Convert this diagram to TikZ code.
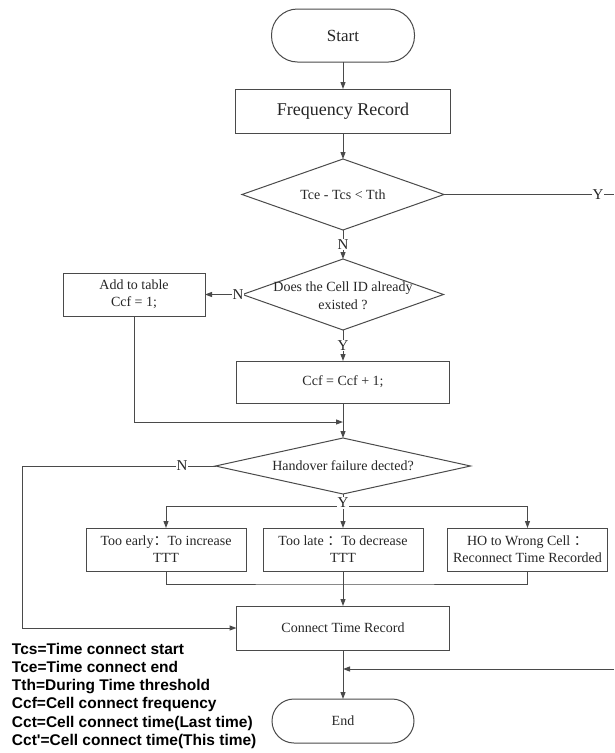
\documentclass[tikz,border=0pt]{standalone}
\usepackage{fontspec}
\setmainfont{Liberation Serif}
\newfontfamily\legendfont{Liberation Sans}
\newfontfamily\cjkfont{Noto Sans CJK SC}
\usetikzlibrary{shapes.geometric,arrows.meta}
\definecolor{linegray}{HTML}{4A4A4A}
\definecolor{textgray}{HTML}{262626}
\newcommand\fwcolon{{\cjkfont ：}}
\begin{document}
\begin{tikzpicture}[x=1pt,y=-1pt,
  every node/.style={inner sep=0pt, outer sep=0pt},
  line/.style={draw=linegray, line width=1pt},
  arr/.style={line, -{Triangle[length=7pt,width=5pt]}},
  box/.style={draw=linegray, line width=1pt, rectangle, align=center,
    text=textgray, font=\fontsize{14}{17}\selectfont},
  term/.style={box, rounded corners=22pt},
  dia/.style={draw=linegray, line width=1pt, diamond},
  dtext/.style={align=center, text=textgray, font=\fontsize{14}{18}\selectfont},
  lbl/.style={fill=white, inner sep=1pt, text=textgray, font=\fontsize{15}{15}\selectfont},
  legend/.style={anchor=base west, text=black, font=\legendfont\bfseries\fontsize{15.5}{18}\selectfont}]
\useasboundingbox (0,0) rectangle (614,753);

% process steps
\node[term, rounded corners=26pt, minimum width=143, minimum height=53,
  font=\fontsize{17}{20}\selectfont] (start) at (343,35.5) {Start};
\node[box, minimum width=215, minimum height=44,
  font=\fontsize{18}{20}\selectfont] (freq) at (343,111) {Frequency Record};
\node[dia, minimum width=202, minimum height=71] (d1) at (343,194.5) {};
\node[dtext] (d1t) at (d1) {Tce - Tcs < Tth};
\node[dia, minimum width=201, minimum height=71] (d2) at (343,294.5) {};
\node[dtext] (d2t) at (343,296) {Does the Cell ID already\\existed ?};
\node[box, minimum width=142, minimum height=43] (add) at (134,294.5) {Add to table\\Ccf = 1;};
\node[box, minimum width=213, minimum height=42] (ccf) at (343,382) {Ccf = Ccf + 1;};
\node[dia, minimum width=255, minimum height=56] (hand) at (343,466) {};
\node[dtext] (handt) at (hand) {Handover failure dected?};
\node[box, minimum width=160, minimum height=43] (early) at (166,549.5) {Too early\fwcolon To increase\\TTT};
\node[box, minimum width=160, minimum height=43] (late) at (343,549.5) {Too late \fwcolon To decrease\\TTT};
\node[box, minimum width=160, minimum height=43] (wrong) at (527.5,549.5) {HO to Wrong Cell \fwcolon\\Reconnect Time Recorded};
\node[box, minimum width=213, minimum height=44] (conn) at (343,628) {Connect Time Record};
\node[term, minimum width=142, minimum height=44] (end) at (343,721) {End};

% helper points
\coordinate (yout) at (614,194.5);
\coordinate (m1) at (343,422);
\coordinate (lcorner) at (22,466);
\coordinate (br) at (343,506);
\coordinate (mg) at (343,584);
\coordinate (rin) at (614,669);

% connectors
\draw[arr] (start) -- (freq);
\draw[arr] (freq) -- (d1);
\draw[line] (d1.east) -- node[lbl, pos=0.906] {Y} (yout);
\draw[arr] (d1.south) -- node[lbl] {N} (d2.north);
\draw[arr] (d2.west) -- node[lbl, pos=0.12] {N} (add.east);
\draw[arr] (d2.south) -- node[lbl] {Y} (ccf.north);
\draw[arr] (add.south) |- (m1);
\draw[arr] (ccf) -- (hand);
\draw[arr] (hand.west) -- node[lbl, pos=0.173] {N} (lcorner) |- (conn.west);
\draw[line] (hand.south) -- (br);
\draw[arr] (br) -- (late.north);
\draw[arr] (br) -| (early.north);
\draw[arr] (br) -| (wrong.north);
\node[lbl] (ylab) at (343,503) {Y};
\draw[line] (early.south) |- (mg) -| (wrong.south);
\draw[line] (late.south) -- (mg);
\draw[arr] (mg) -- (conn.north);
\draw[arr] (conn) -- (end);
\draw[arr] (rin) -- (rin -| conn.south);

% abbreviations
\node[legend] (l1) at (12,654) {Tcs=Time connect start};
\node[legend] (l2) at (12,672.3) {Tce=Time connect end};
\node[legend] (l3) at (12,690.6) {Tth=During Time threshold};
\node[legend] (l4) at (12,708.9) {Ccf=Cell connect frequency};
\node[legend] (l5) at (12,727.2) {Cct=Cell connect time(Last time)};
\node[legend] (l6) at (12,745.5) {Cct'=Cell connect time(This time)};
\end{tikzpicture}
\end{document}
